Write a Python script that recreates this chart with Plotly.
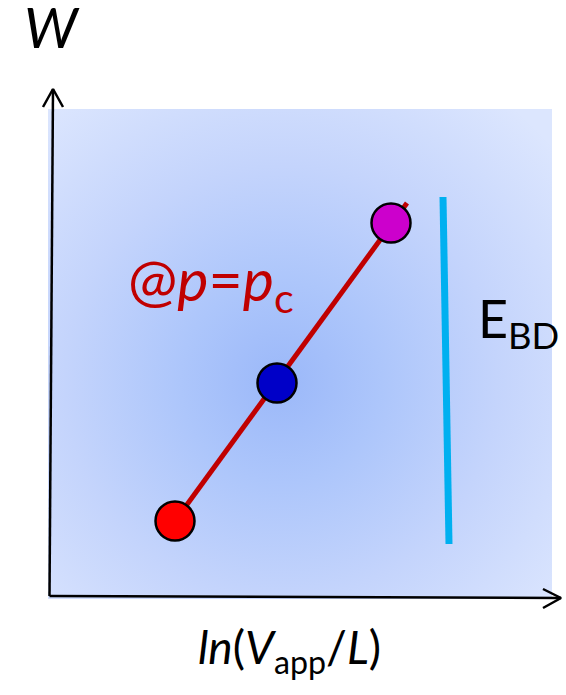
import plotly.graph_objects as go

# Points measured at p = p_c (ln(V_app/L) vs W), in chart units
ln_v = [175, 277, 391]
w_vals = [174, 312, 472]
point_colors = ["#FF0000", "#0000C8", "#CC00CC"]

# Linear trend through the points, extended slightly past the last one
trend_x = [175, 407]
trend_w = [174, 492]

# Breakdown-field boundary
ebd_x = [443, 449]
ebd_w = [498, 151]

W, H = 566, 695

# Shaded panel bounds (pixels from the top-left corner)
panel_l, panel_r, panel_t, panel_b = 48, 552, 109, 599
# Centre and reach of the radial shading
glow_cx, glow_cy, glow_r = 281, 382, 360

fig = go.Figure()

# Radial blue shading on the bottom subplot, clipped to the panel
fig.add_trace(go.Scatter(
    x=[glow_cx - glow_r, glow_cx + glow_r, glow_cx + glow_r, glow_cx - glow_r, glow_cx - glow_r],
    y=[H - (glow_cy - glow_r), H - (glow_cy - glow_r), H - (glow_cy + glow_r),
       H - (glow_cy + glow_r), H - (glow_cy - glow_r)],
    xaxis="x", yaxis="y",
    mode="lines", line=dict(width=0), fill="toself",
    fillgradient=dict(type="radial",
                      colorscale=[[0, "#9BB8F9"], [0.28, "#ADC6FB"],
                                  [0.6, "#C4D4FC"], [1, "#DCE6FE"]]),
    hoverinfo="skip", showlegend=False))

# Everything else lives on a full-figure subplot drawn on top
over = dict(xaxis="x2", yaxis="y2", hoverinfo="skip", showlegend=False)

# Axes with open arrowheads
axis_style = dict(color="black", width=2.5)
fig.add_trace(go.Scatter(x=[49.5, 53], y=[H - 596, H - 89], mode="lines",
                         line=axis_style, **over))
fig.add_trace(go.Scatter(x=[43, 53, 63], y=[H - 107, H - 89, H - 107], mode="lines",
                         line=axis_style, **over))
fig.add_trace(go.Scatter(x=[49.5, 561], y=[H - 596, H - 598], mode="lines",
                         line=axis_style, **over))
fig.add_trace(go.Scatter(x=[543, 561, 543], y=[H - 589, H - 598, H - 608], mode="lines",
                         line=axis_style, **over))

# E_BD line
fig.add_trace(go.Scatter(x=ebd_x, y=ebd_w, mode="lines",
                         line=dict(color="#00B0F0", width=7), **over))

# Trend line and points
fig.add_trace(go.Scatter(x=trend_x, y=trend_w, mode="lines",
                         line=dict(color="#C00000", width=5), **over))
fig.add_trace(go.Scatter(x=ln_v, y=w_vals, mode="markers",
                         marker=dict(size=39, color=point_colors,
                                     line=dict(color="black", width=2.5)),
                         **over))

font_family = "Lato, 'Open Sans', sans-serif"
annotations = [
    dict(x=52, y=H - 26, text="<i>W</i>", font=dict(size=56, color="black")),
    dict(x=211, y=H - 282, text="@<i>p</i>=<i>p</i><sub>c</sub>",
         font=dict(size=59, color="#C00000")),
    dict(x=518, y=H - 322, text="E<sub>BD</sub>", font=dict(size=52, color="black")),
    dict(x=289, y=H - 650, text="<i>ln</i>(<i>V</i><sub>app</sub>/<i>L</i>)",
         font=dict(size=46, color="black")),
]
for a in annotations:
    a.update(xref="x2", yref="y2", showarrow=False, xanchor="center", yanchor="middle")
    a["font"]["family"] = font_family

fig.update_layout(
    width=W, height=H,
    margin=dict(l=0, r=0, t=0, b=0),
    paper_bgcolor="white", plot_bgcolor="rgba(0,0,0,0)",
    xaxis=dict(domain=[panel_l / W, panel_r / W], range=[panel_l, panel_r],
               visible=False, fixedrange=True, anchor="y"),
    yaxis=dict(domain=[(H - panel_b) / H, (H - panel_t) / H],
               range=[H - panel_b, H - panel_t],
               visible=False, fixedrange=True, anchor="x"),
    xaxis2=dict(domain=[0, 1], range=[0, W], visible=False, fixedrange=True, anchor="y2"),
    yaxis2=dict(domain=[0, 1], range=[0, H], visible=False, fixedrange=True, anchor="x2"),
    annotations=annotations,
    showlegend=False,
)

fig.write_html("out.html")
